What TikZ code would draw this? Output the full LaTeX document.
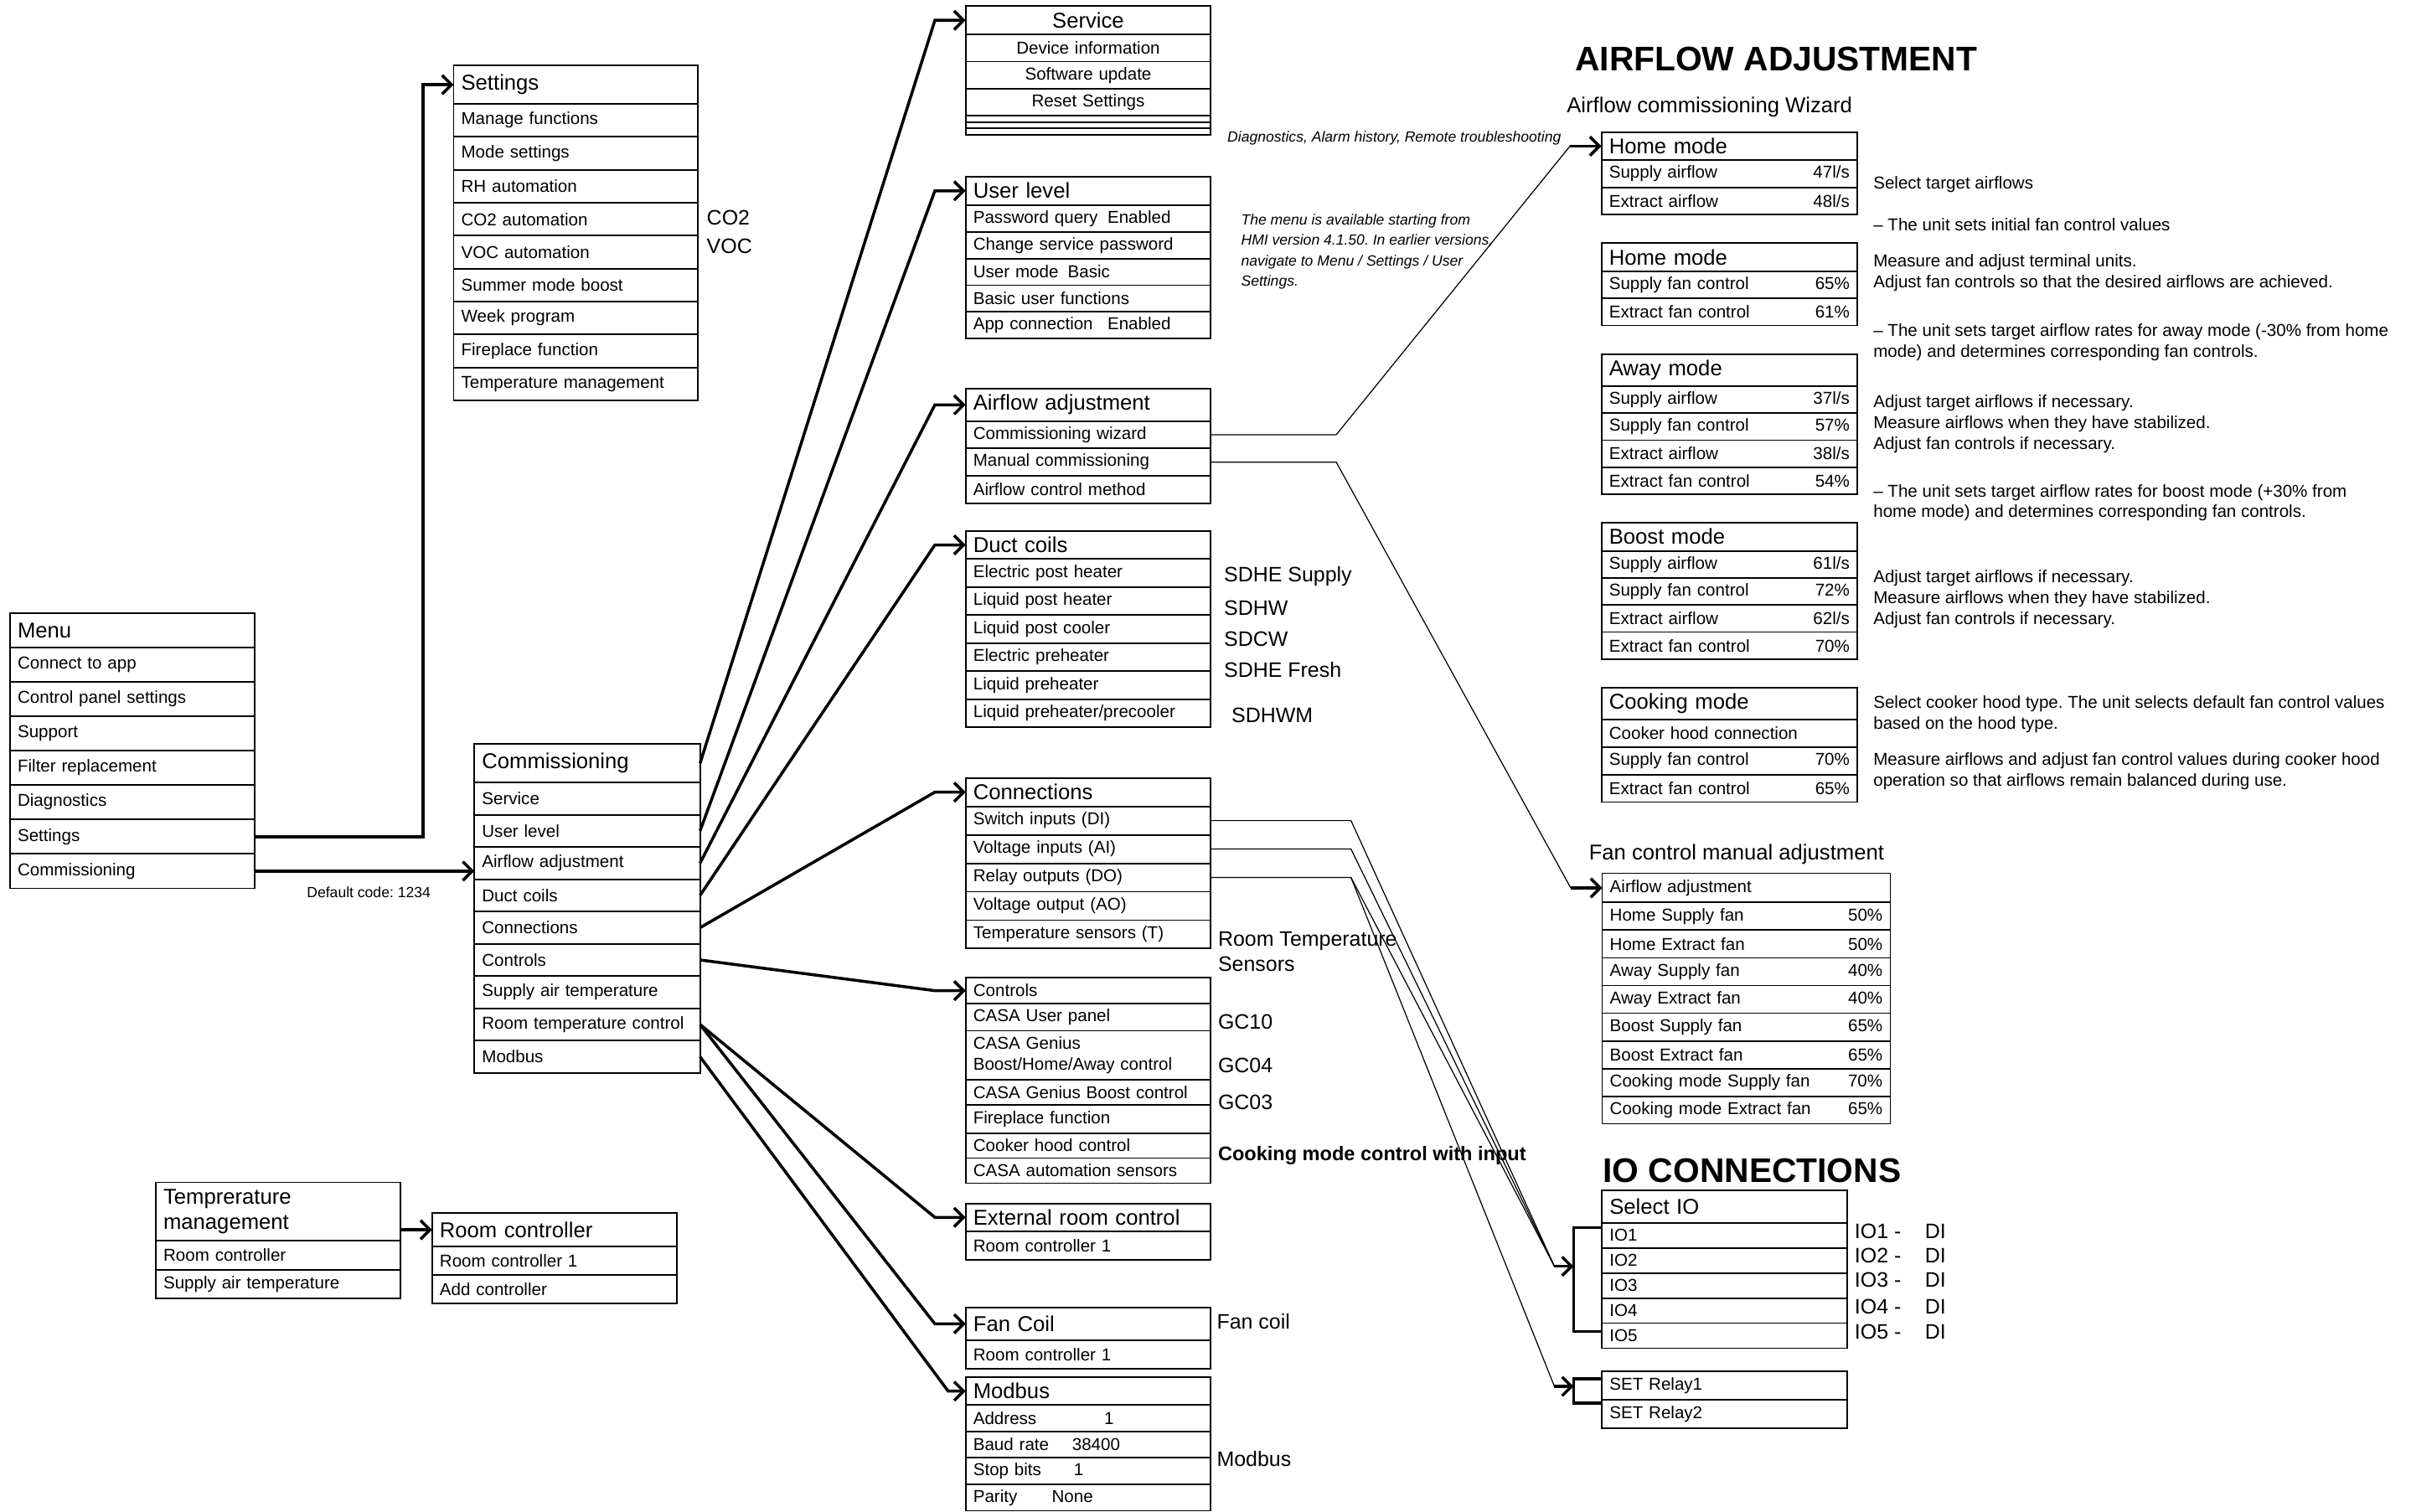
\documentclass[tikz,border=0pt]{standalone}
\usepackage{fontspec}
\setmainfont{Liberation Sans}
\usepackage{tikz}
\usetikzlibrary{arrows.meta,positioning}
\frenchspacing

\newdimen\ux \ux=0.5204pt
\newcommand\fRow{\fontsize{5.85}{7.1}\selectfont}
\newcommand\fHead{\fontsize{7.3}{8.4}\selectfont}
\newcommand\fLab{\fontsize{7.1}{8.5}\selectfont}
\newcommand\fNote{\itshape\fontsize{5}{7}\selectfont}
\newcommand\fTitle{\bfseries\fontsize{11.6}{13}\selectfont}
\newcommand\valR[1]{\hspace{0pt plus 1filll}#1}

\begin{document}
\begin{tikzpicture}[x=0.018355cm,y=-0.018355cm,
	cell/.style={draw,line width=0.5pt,outer sep=0pt,inner xsep=5*\ux,inner ysep=0pt,
		anchor=north west,align=left,font=\fRow},
	head/.style={cell,font=\fHead},
	h/.style={minimum height=#1*\ux},
	lab/.style={anchor=west,inner sep=0pt,align=left,font=\fLab},
	desc/.style={anchor=west,inner sep=0pt,align=left,font=\fRow},
	note/.style={anchor=west,inner sep=0pt,align=left,font=\fNote},
	arr/.style={{Straight Barb[length=3.2pt,width=6.4pt]}-,line width=1pt},
	lnk/.style={line width=0.35pt},
	brk/.style={line width=1pt}
]
\useasboundingbox (0,0) rectangle (1568,983);

% left column
\node [head,text width=77.8pt,h=22]	(menu) at (6.5,399)	{Menu};
\foreach \txt [count=\i] in {Connect to app,Control panel settings,Support,Filter replacement,Diagnostics,Settings,Commissioning}
	\node [cell,text width=77.8pt,h=22.4]	(menu\i) at ({6.5},{421+22.4*(\i-1)})	{\txt};

\node [head,text width=77.8pt,h=25]	(settings) at (295,42.6)	{Settings};
\foreach \txt [count=\i] in {Manage functions,Mode settings,RH automation,CO2 automation,VOC automation,Summer mode boost,Week program,Fireplace function,Temperature management}
	\node [cell,text width=77.8pt,h=21.43]	(set\i) at ({295},{67.6+21.43*(\i-1)})	{\txt};
\node [lab]	(co2) at (459.3,141.4)	{CO2};
\node [lab]	(voc) at (459.3,160.1)	{VOC};

\node [head,text width=71.45pt,h=25]	(comm) at (308.5,484)	{Commissioning};
\foreach \txt [count=\i] in {Service,User level,Airflow adjustment,Duct coils,Connections,Controls,Supply air temperature,Room temperature control,Modbus}
	\node [cell,text width=71.45pt,h=20.98]	(com\i) at ({308.5},{509+20.98*(\i-1)})	{\txt};

\node [head,text width=77.9pt,h=38]	(tm) at (101.3,769)	{Temprerature\\management};
\foreach \txt [count=\i] in {Room controller,Supply air temperature}
	\node [cell,text width=77.9pt,h=18.75]	(tm\i) at ({101.3},{807+18.75*(\i-1)})	{\txt};
\node [head,text width=77.9pt,h=21.8]	(rc) at (281,789)	{Room controller};
\foreach \txt [count=\i] in {Room controller 1,Add controller}
	\node [cell,text width=77.9pt,h=18.5]	(rc\i) at ({281},{810.8+18.5*(\i-1)})	{\txt};

% middle column
\node [head,text width=78.06pt,h=18.5,align=center]	(service) at (628,4)	{Service};
\foreach \txt [count=\i] in {Device information,Software update,Reset Settings}
	\node [cell,text width=78.06pt,h=17.6,align=center]	(sv\i) at ({628},{22.5+17.6*(\i-1)})	{\txt};
\foreach \i in {4,5,6}
	\node [cell,minimum width=160*\ux,h=4.1,inner sep=0pt,text height=0pt,text depth=0pt]	(sv\i) at ({628},{75.3+4.1*(\i-4)})	{};

\node [head,text width=78.06pt,h=18.7]	(ulevel) at (628,114.8)	{User level};
\foreach \txt [count=\i] in {{\makebox[45.6pt][l]{Password query}Enabled},{Change service password},{\makebox[32.1pt][l]{User mode}Basic},{Basic user functions},{\makebox[45.6pt][l]{App connection}Enabled}}
	\node [cell,text width=78.06pt,h=17.34]	(ul\i) at ({628},{133.5+17.34*(\i-1)})	{\txt};

\node [head,text width=78.06pt,h=21.1]	(afadj) at (628,252.8)	{Airflow adjustment};
\foreach \txt [count=\i] in {Commissioning wizard,Manual commissioning,Airflow control method}
	\node [cell,text width=78.06pt,h=17.8]	(af\i) at ({628},{273.9+17.8*(\i-1)})	{\txt};

\node [head,text width=78.06pt,h=18.1]	(duct) at (628,345.4)	{Duct coils};
\foreach \txt [count=\i] in {Electric post heater,Liquid post heater,Liquid post cooler,Electric preheater,Liquid preheater,Liquid preheater/precooler}
	\node [cell,text width=78.06pt,h=18.25]	(dc\i) at ({628},{363.5+18.25*(\i-1)})	{\txt};
\node [lab]	(sdhes) at (795.7,375)	{SDHE Supply};
\node [lab]	(sdhw) at (795.7,395.5)	{SDHW};
\node [lab]	(sdcw) at (795.7,415.5)	{SDCW};
\node [lab]	(sdhef) at (795.7,435.8)	{SDHE Fresh};
\node [lab]	(sdhwm) at (800.6,465)	{SDHWM};

\node [head,text width=78.06pt,h=18.5]	(conn) at (628,506)	{Connections};
\foreach \txt [count=\i] in {{Switch inputs (DI)},{Voltage inputs (AI)},{Relay outputs (DO)},{Voltage output (AO)},{Temperature sensors (T)}}
	\node [cell,text width=78.06pt,h=18.5]	(cn\i) at ({628},{524.5+18.5*(\i-1)})	{\txt};
\node [lab]	(rts) at (791.8,618.9)	{Room Temperature\\Sensors};

\node [cell,text width=78.06pt,h=16.7]	(ctrl) at (628,636)	{Controls};
\node [cell,text width=78.06pt,h=17.8]	(ct1) at (ctrl.south west)	{CASA User panel};
\node [cell,text width=78.06pt,h=31.9]	(ct2) at (ct1.south west)	{CASA Genius\\Boost/Home/Away control};
\node [cell,text width=78.06pt,h=16.4]	(ct3) at (ct2.south west)	{CASA Genius Boost control};
\node [cell,text width=78.06pt,h=18.5]	(ct4) at (ct3.south west)	{Fireplace function};
\node [cell,text width=78.06pt,h=16.3]	(ct5) at (ct4.south west)	{Cooker hood control};
\node [cell,text width=78.06pt,h=16.4]	(ct6) at (ct5.south west)	{CASA automation sensors};
\node [lab]	(gc10) at (791.8,664.7)	{GC10};
\node [lab]	(gc04) at (791.8,692.8)	{GC04};
\node [lab]	(gc03) at (791.8,717)	{GC03};
\node [lab,font=\bfseries\fontsize{6.7}{8}\selectfont]	(cookin) at (791.8,751.8)	{Cooking mode control with input};

\node [head,text width=78.06pt,h=18.2]	(extrc) at (628,782.7)	{External room control};
\node [cell,text width=78.06pt,h=18.7]	(er1) at (extrc.south west)	{Room controller 1};
\node [head,text width=78.06pt,h=21.3]	(fancoil) at (628,850.4)	{Fan Coil};
\node [cell,text width=78.06pt,h=18.5]	(fcl1) at (fancoil.south west)	{Room controller 1};
\node [lab]	(fclab) at (791,859.3)	{Fan coil};
\node [head,text width=78.06pt,h=18]	(modbus) at (628,895.8)	{Modbus};
\foreach \txt [count=\i] in {{\makebox[44.5pt][l]{Address}1},{\makebox[33.6pt][l]{Baud rate}38400},{\makebox[34.2pt][l]{Stop bits}1},{\makebox[26.7pt][l]{Parity}None}}
	\node [cell,text width=78.06pt,h=17.2]	(mb\i) at ({628},{913.8+17.2*(\i-1)})	{\txt};
\node [lab]	(mblab) at (791,948.9)	{Modbus};

\node [note]	(diag) at (797.9,89.9)	{Diagnostics, Alarm history, Remote troubleshooting};
\node [note]	(hmi) at (806.8,163.65)	{The menu is available starting from\\HMI version 4.1.50. In earlier versions,\\navigate to Menu / Settings / User\\Settings.};

% right column
\node [anchor=west,inner sep=0pt,font=\fTitle]	(aftitle) at (1024,38.5)	{AIRFLOW ADJUSTMENT};
\node [anchor=west,inner sep=0pt,font=\fHead]	(wizard) at (1018.6,69.8)	{Airflow commissioning Wizard};

\node [head,text width=81.7pt,h=18.4]	(home1) at (1041.5,85.9)	{Home mode};
\foreach \txt [count=\i] in {{Supply airflow\valR{47l/s}},{Extract airflow\valR{48l/s}}}
	\node [cell,text width=81.7pt,h=17.55]	(hma\i) at ({1041.5},{104.3+17.55*(\i-1)})	{\txt};
\node [head,text width=81.7pt,h=18.4]	(home2) at (1041.5,158.2)	{Home mode};
\foreach \txt [count=\i] in {{Supply fan control\valR{65\%}},{Extract fan control\valR{61\%}}}
	\node [cell,text width=81.7pt,h=17.55]	(hmb\i) at ({1041.5},{176.6+17.55*(\i-1)})	{\txt};
\node [head,text width=81.7pt,h=20.7]	(away) at (1041.5,230.5)	{Away mode};
\foreach \txt [count=\i] in {{Supply airflow\valR{37l/s}},{Supply fan control\valR{57\%}},{Extract airflow\valR{38l/s}},{Extract fan control\valR{54\%}}}
	\node [cell,text width=81.7pt,h=17.55]	(aw\i) at ({1041.5},{251.2+17.55*(\i-1)})	{\txt};
\node [head,text width=81.7pt,h=18.3]	(boost) at (1041.5,340)	{Boost mode};
\foreach \txt [count=\i] in {{Supply airflow\valR{61l/s}},{Supply fan control\valR{72\%}},{Extract airflow\valR{62l/s}},{Extract fan control\valR{70\%}}}
	\node [cell,text width=81.7pt,h=17.6]	(bo\i) at ({1041.5},{358.3+17.6*(\i-1)})	{\txt};
\node [head,text width=81.7pt,h=20.9]	(cook) at (1041.5,447.1)	{Cooking mode};
\foreach \txt [count=\i] in {{Cooker hood connection},{Supply fan control\valR{70\%}},{Extract fan control\valR{65\%}}}
	\node [cell,text width=81.7pt,h=17.9]	(ck\i) at ({1041.5},{468+17.9*(\i-1)})	{\txt};

\node [desc]	(d1) at (1218,120)	{Select target airflows};
\node [desc]	(d2) at (1218,146)	{– The unit sets initial fan control values};
\node [desc]	(d3) at (1218,177.2)	{Measure and adjust terminal units.\\Adjust fan controls so that the desired airflows are achieved.};
\node [desc]	(d4) at (1218,222.8)	{– The unit sets target airflow rates for away mode (-30\% from home\\mode) and determines corresponding fan controls.};
\node [desc]	(d5) at (1218,276)	{Adjust target airflows if necessary.\\Measure airflows when they have stabilized.\\Adjust fan controls if necessary.};
\node [desc]	(d6) at (1218,327)	{– The unit sets target airflow rates for boost mode (+30\% from\\home mode) and determines corresponding fan controls.};
\node [desc]	(d7) at (1218,389.5)	{Adjust target airflows if necessary.\\Measure airflows when they have stabilized.\\Adjust fan controls if necessary.};
\node [desc]	(d8) at (1218,464.5)	{Select cooker hood type. The unit selects default fan control values\\based on the hood type.};
\node [desc]	(d9) at (1218,501.5)	{Measure airflows and adjust fan control values during cooker hood\\operation so that airflows remain balanced during use.};

\node [anchor=west,inner sep=0pt,font=\fHead]	(fctitle) at (1033,555.7)	{Fan control manual adjustment};
\node [cell,text width=92.63pt,h=19]	(fca) at (1042,568)	{Airflow adjustment};
\foreach \txt [count=\i] in {{Home Supply fan\valR{50\%}},{Home Extract fan\valR{50\%}},{Away Supply fan\valR{40\%}},{Away Extract fan\valR{40\%}},{Boost Supply fan\valR{65\%}},{Boost Extract fan\valR{65\%}},{Cooking mode Supply fan\valR{70\%}},{Cooking mode Extract fan\valR{65\%}}}
	\node [cell,text width=92.63pt,h=18]	(fc\i) at ({1042},{587+18*(\i-1)})	{\txt};

\node [anchor=west,inner sep=0pt,font=\fTitle]	(iotitle) at (1042.2,761.3)	{IO CONNECTIONS};
\node [head,text width=78.16pt,h=21.2]	(selio) at (1041.8,774.2)	{Select IO};
\foreach \i in {1,...,5}
	\node [cell,text width=78.16pt,h=16.3]	(io\i) at ({1041.8},{795.4+16.3*(\i-1)})	{IO\i};
\foreach \i/\yy in {1/800.9,2/816.8,3/832.6,4/849.9,5/866.2}
	\node [lab]	(iol\i) at (1205.8,\yy)	{\makebox[23.9pt][l]{IO\i{} -}DI};
\foreach \i in {1,2}
	\node [cell,text width=78.16pt,h=18.6]	(rl\i) at ({1041.8},{891.7+18.6*(\i-1)})	{SET Relay\i};

% connectors
\draw [arr]	(settings.west) -- ++(-20,0) |- (menu6.east);
\draw [arr]	(menu7.east -| comm.west) -- (menu7.east);
\node [anchor=north,inner sep=0pt,font=\fontsize{5}{6}\selectfont]	(code) at (239.8,576.5)	{Default code: 1234};
\draw [arr]	(rc.west) -- (rc.west -| tm.east);

\draw [arr]	(service.west) -- ++(-20,0) -- (comm.east);
\draw [arr]	(ulevel.west) -- ++(-20,0) -- (com2.east);
\draw [arr]	(afadj.west) -- ++(-20,0) -- (com3.east);
\draw [arr]	(duct.west) -- ++(-20,0) -- (com4.east);
\draw [arr]	(conn.west) -- ++(-20,0) -- (com5.east);
\draw [arr]	(ctrl.west) -- ++(-20,0) -- (com6.east);
\draw [arr]	(extrc.west) -- ++(-20,0) -- (com8.east);
\draw [arr]	(fancoil.west) -- ++(-20,0) -- (com8.east);
\draw [arr]	(modbus.west) -- ++(-11.4,0) -- (com9.east);

\draw [arr]	(home1.west) -- ++(-20.5,0) coordinate (hmin);
\draw [lnk]	(af1.east) -- ++(81.6,0) -- (hmin);
\draw [arr]	(fca.west) -- ++(-20.5,0) coordinate (fmin);
\draw [lnk]	(af2.east) -- ++(81.6,0) -- (fmin);

\draw [brk]	([yshift=-3*\ux]io1.north west) -- ++(-18.4,0) |- ([yshift=-5.5*\ux]io5.north west);
\draw [brk]	([yshift=-5.1*\ux]rl1.north west) -- ++(-18.4,0) |- ([yshift=-2.3*\ux]rl2.north west);
\coordinate (ioin) at (1023.4,823.6);
\coordinate (rlin) at (1023.4,901.7);
\draw [arr]	(ioin) -- ++(-12.5,0) coordinate (iofrom);
\draw [arr]	(rlin) -- ++(-12.5,0) coordinate (rlfrom);
\draw [lnk]	(cn1.east) -- ++(91.2,0) -- (iofrom);
\draw [lnk]	(cn2.east) -- ++(91.2,0) -- (iofrom);
\draw [lnk]	(cn3.east) -- ++(91.2,0) coordinate (docorner) -- (iofrom);
\draw [lnk]	(docorner) -- (rlfrom);
\end{tikzpicture}
\end{document}
